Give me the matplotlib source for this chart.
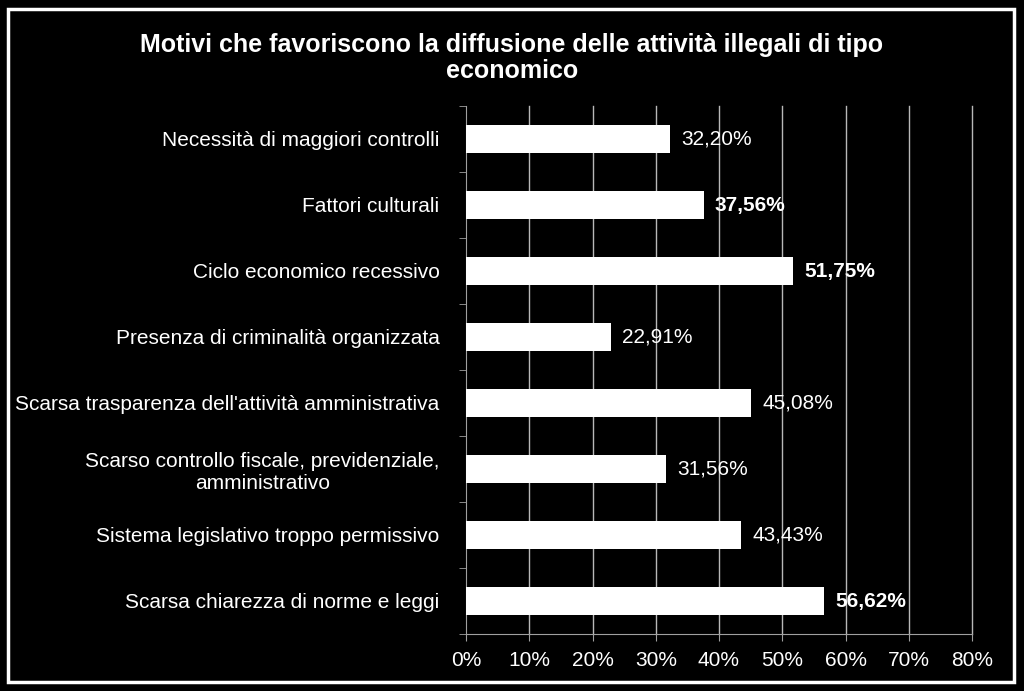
import matplotlib.pyplot as plt
from matplotlib.patches import Rectangle

plt.rcParams['font.family'] = ['Liberation Sans', 'DejaVu Sans']

# Dati (dall'alto verso il basso)
categorie = [
    'Necessità di maggiori controlli',
    'Fattori culturali',
    'Ciclo economico recessivo',
    'Presenza di criminalità organizzata',
    "Scarsa trasparenza dell'attività amministrativa",
    'Scarso controllo fiscale, previdenziale,\namministrativo',
    'Sistema legislativo troppo permissivo',
    'Scarsa chiarezza di norme e leggi',
]
valori = [32.20, 37.56, 51.75, 22.91, 45.08, 31.56, 43.43, 56.62]
etichette = ['32,20%', '37,56%', '51,75%', '22,91%', '45,08%', '31,56%', '43,43%', '56,62%']
grassetto = [False, True, True, False, False, False, False, True]
tick_x = [0, 10, 20, 30, 40, 50, 60, 70, 80]

fig = plt.figure(figsize=(10.24, 6.91), dpi=100, facecolor='black')
W, H = 1024, 691
ax = fig.add_axes([466 / W, 1 - 634 / H, (972 - 466) / W, (634 - 106) / H])
ax.set_facecolor('black')

# cornice bianca
fig.patches.append(Rectangle((8 / W, 1 - 682 / H), (1014 - 8) / W, (682 - 9) / H,
                             transform=fig.transFigure, fill=False,
                             edgecolor='white', linewidth=2.5))

pos = list(range(len(categorie)))
ax.barh(pos, valori, height=0.41, color='white', zorder=3)
ax.set_ylim(len(categorie) - 0.5, -0.5)
ax.set_xlim(0, 80)

for p, v, t, b in zip(pos, valori, etichette, grassetto):
    ax.text(v + 1.8, p, t, color='white', fontsize=15, va='center', ha='left',
            fontweight='bold' if b else 'normal', zorder=4)

# griglia verticale
for t in tick_x[1:]:
    ax.axvline(t, color='#b8b8b8', linewidth=1, zorder=1, clip_on=False)

ax.set_xticks(tick_x)
ax.set_xticklabels([f'{t}%' for t in tick_x], color='white', fontsize=15)

ax.set_yticks(pos)
ax.set_yticklabels(categorie, color='white', fontsize=15, multialignment='center')
ax.tick_params(axis='y', length=0, pad=19)
ax.set_yticks([p + 0.5 for p in [-1] + pos], minor=True)
ax.tick_params(axis='y', which='minor', length=5, color='#a0a0a0', direction='out')
ax.tick_params(axis='x', length=5, color='#a0a0a0', direction='out', pad=7)

for s in ['top', 'right']:
    ax.spines[s].set_visible(False)
for s in ['left', 'bottom']:
    ax.spines[s].set_color('#a0a0a0')

fig.text(0.5, 1 - 58 / H, 'Motivi che favoriscono la diffusione delle attività illegali di tipo\neconomico',
         color='white', fontsize=18, fontweight='bold', ha='center', va='center',
         linespacing=1.15)

fig.savefig('out.png', dpi=100, facecolor='black')
